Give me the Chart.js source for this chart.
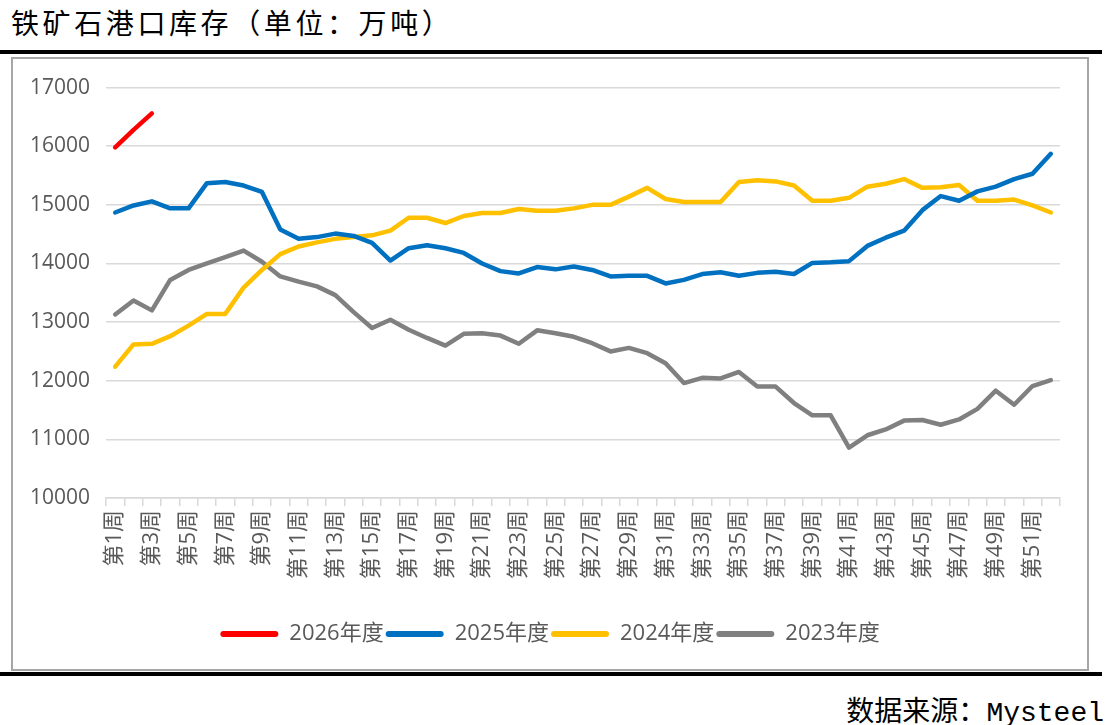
<!DOCTYPE html>
<html>
<head>
<meta charset="utf-8">
<script src="https://cdn.jsdelivr.net/npm/chart.js@4/dist/chart.umd.min.js"></script>
<style>
    body { margin: 0; width: 1111px; height: 725px; background: #fff; position: relative; overflow: hidden; }
    .title { position: absolute; left: 11px; top: 2px; font: 28px 'Noto Sans CJK SC', sans-serif; letter-spacing: 3.6px; color: #000; }
    .rule { position: absolute; left: 0; width: 1102px; height: 4px; background: #000; }
    .box { position: absolute; left: 11px; top: 57px; width: 1078px; height: 614px; box-sizing: border-box; border: 2px solid #a6a6a6; }
    .source { position: absolute; right: 7px; top: 689px; font: 28px 'Noto Sans CJK SC', 'Liberation Mono', monospace; color: #000; }
    .source span { font-family: 'Liberation Mono', monospace; }
</style>
</head>
<body>
<div class="title">铁矿石港口库存（单位：万吨）</div>
<div class="rule" style="top:50px"></div>
<div class="box"><canvas id="stockChart" width="1074" height="610"></canvas></div>
<div class="rule" style="top:672px"></div>
<div class="source">数据来源：<span>Mysteel</span></div>

<script>
    // weeks 1..52
    const weeks = Array.from({ length: 52 }, (_, i) => '第' + (i + 1) + '周');
    const seriesNames = ['2026年度', '2025年度', '2024年度', '2023年度'];
    const seriesColors = ['#ff0000', '#0070c0', '#ffc000', '#808080'];
    const yTicks = [10000, 11000, 12000, 13000, 14000, 15000, 16000, 17000];

    const stock2026 = [15980, 16280, 16560];
    const stock2025 = [14870, 14990, 15060, 14940, 14940, 15370, 15390, 15330, 15220, 14580,
        14420, 14450, 14510, 14470, 14350, 14050, 14260, 14310, 14260, 14180,
        14000, 13870, 13830, 13940, 13900, 13950, 13890, 13780, 13790, 13790,
        13660, 13720, 13820, 13850, 13790, 13840, 13860, 13820, 14010, 14020,
        14040, 14300, 14440, 14560, 14910, 15150, 15070, 15230, 15310, 15440,
        15530, 15870];
    const stock2024 = [12240, 12620, 12630, 12760, 12940, 13140, 13140, 13590, 13890, 14160,
        14290, 14360, 14420, 14450, 14480, 14560, 14780, 14780, 14690, 14810,
        14860, 14860, 14930, 14900, 14900, 14940, 15000, 15000, 15140, 15290,
        15100, 15050, 15050, 15050, 15390, 15420, 15400, 15330, 15070, 15070,
        15120, 15310, 15360, 15440, 15290, 15300, 15340, 15070, 15070, 15090,
        14990, 14870];
    const stock2023 = [13130, 13370, 13200, 13720, 13890, 14000, 14110, 14220, 14030, 13780,
        13690, 13610, 13460, 13170, 12900, 13040, 12870, 12730, 12600, 12800,
        12810, 12770, 12630, 12860, 12810, 12750, 12640, 12500, 12560, 12470,
        12300, 11960, 12050, 12040, 12150, 11900, 11900, 11620, 11410, 11410,
        10860, 11070, 11170, 11320, 11330, 11250, 11340, 11520, 11830, 11590,
        11910, 12010];

    const allSeries = [stock2026, stock2025, stock2024, stock2023];
    const labelFont = "'Open Sans', 'Noto Sans CJK SC', sans-serif";

    const ctx = document.getElementById('stockChart').getContext('2d');
    new Chart(ctx, {
        type: 'line',
        data: {
            labels: weeks,
            datasets: allSeries.map((values, i) => ({
                label: seriesNames[i],
                data: values,
                borderColor: seriesColors[i],
                backgroundColor: seriesColors[i],
                borderWidth: 4.5,
                borderCapStyle: 'round',
                borderJoinStyle: 'round',
                pointRadius: 0,
                tension: 0
            }))
        },
        options: {
            responsive: false,
            animation: false,
            layout: { padding: { left: 0, right: 0, top: 28, bottom: 14 } },
            scales: {
                x: {
                    offset: true,
                    grid: { offset: true, drawOnChartArea: false, drawTicks: true, tickLength: 8, color: '#d9d9d9', lineWidth: 1.5 },
                    border: { color: '#d9d9d9', width: 1.5 },
                    ticks: {
                        autoSkip: false,
                        maxRotation: 90,
                        minRotation: 90,
                        padding: 4,
                        color: '#595959',
                        font: { family: labelFont, size: 22 },
                        callback: function(value, index) {
                            return index % 2 === 0 ? weeks[index] : '';
                        }
                    },
                    afterFit: function(scale) { scale.height = 123; }
                },
                y: {
                    min: 10000,
                    max: 17000,
                    afterBuildTicks: function(scale) { scale.ticks = yTicks.map(v => ({ value: v })); },
                    grid: { color: '#d9d9d9', lineWidth: 1.5, drawTicks: false },
                    border: { display: false },
                    ticks: {
                        padding: 16,
                        color: '#595959',
                        font: { family: labelFont, size: 21 },
                        callback: function(value) { return String(value); }
                    },
                    afterFit: function(scale) { scale.width = 93; }
                },
                // empty right-hand margin so the legend centres on the whole box
                spacer: {
                    type: 'linear',
                    position: 'right',
                    grid: { display: false },
                    border: { display: false },
                    ticks: { display: false },
                    afterFit: function(scale) { scale.width = 27; }
                }
            },
            plugins: {
                tooltip: { enabled: false },
                legend: {
                    position: 'bottom',
                    labels: {
                        boxWidth: 58,
                        boxHeight: 6,
                        useBorderRadius: true,
                        borderRadius: 3,
                        padding: 2,
                        color: '#595959',
                        font: { family: labelFont, size: 22 },
                        generateLabels: function(chart) {
                            return Chart.defaults.plugins.legend.labels.generateLabels(chart)
                                .map(item => Object.assign(item, { lineWidth: 0 }));
                        }
                    }
                }
            }
        }
    });
</script>
</body>
</html>
